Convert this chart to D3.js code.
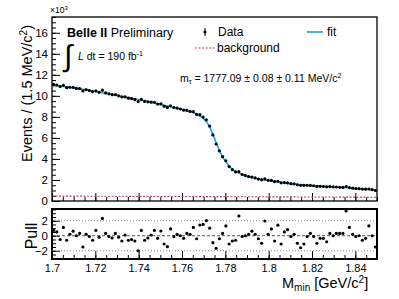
<!DOCTYPE html>
<html><head><meta charset="utf-8">
<script src="https://cdn.jsdelivr.net/npm/d3@7"></script>
<style>body{margin:0;background:#fff} svg{display:block} text{font-family:"Liberation Sans",Arial,Helvetica,sans-serif;fill:#000}</style>
</head><body><svg id="c" width="399" height="299"></svg>
<script>
// ---- data (Events in units of 10^3 per 1.5 MeV bin) ----
const binLow = 1.70, binWidth = 0.0015;
const dataValues = [11.10,11.03,10.88,11.00,10.78,10.82,10.81,10.71,10.69,10.47,
 10.59,10.51,10.41,10.48,10.34,10.54,10.28,10.19,10.11,10.11,
 10.00,9.89,9.91,9.78,9.73,9.65,9.46,9.66,9.47,9.43,
 9.40,9.39,9.22,9.24,9.01,8.90,9.05,8.89,8.84,8.75,
 8.64,8.62,8.52,8.50,8.23,8.21,7.98,7.72,7.13,6.28,
 5.42,4.77,4.22,3.83,3.27,2.98,2.77,2.79,2.52,2.42,
 2.33,2.28,2.19,2.09,2.01,2.10,1.97,1.96,1.84,1.88,
 1.73,1.75,1.72,1.65,1.62,1.54,1.49,1.49,1.50,1.48,
 1.45,1.39,1.40,1.38,1.35,1.37,1.34,1.33,1.31,1.29,
 1.38,1.28,1.22,1.19,1.17,1.13,1.12,1.14,1.08,1.00];
const fitValues = [11.03,10.98,10.93,10.89,10.84,10.80,10.75,10.71,10.66,10.62,
 10.57,10.52,10.47,10.41,10.36,10.31,10.25,10.20,10.14,10.08,
 10.02,9.96,9.90,9.84,9.78,9.72,9.66,9.59,9.53,9.46,
 9.39,9.32,9.25,9.18,9.11,9.04,8.97,8.90,8.82,8.75,
 8.67,8.59,8.50,8.40,8.27,8.08,7.85,7.55,7.05,6.35,
 5.55,4.80,4.20,3.75,3.33,3.02,2.80,2.65,2.52,2.42,
 2.32,2.25,2.18,2.11,2.06,2.01,1.96,1.92,1.87,1.82,
 1.78,1.73,1.69,1.65,1.61,1.58,1.55,1.53,1.50,1.47,
 1.45,1.43,1.41,1.39,1.38,1.36,1.34,1.32,1.30,1.28,
 1.26,1.24,1.21,1.19,1.17,1.15,1.13,1.10,1.08,1.05];
const pullValues = [0.7,0.5,-0.5,1.1,-0.6,0.2,0.6,0.0,0.3,-1.5,
 0.2,-0.1,-0.6,0.7,-0.2,2.3,0.3,-0.1,-0.3,0.3,
 -0.2,-0.7,0.1,-0.6,-0.5,-0.7,-2.0,0.7,-0.6,-0.3,
 0.1,0.7,-0.35,0.63,-1.1,-1.46,0.9,-0.13,0.19,0.0,
 -0.35,0.3,0.19,1.1,-0.4,1.43,1.5,2.0,1.0,-0.93,
 -1.68,-0.4,0.3,1.3,-1.1,-0.7,-0.6,2.63,-0.1,0.0,
 0.2,0.6,0.2,-0.4,-1.0,1.96,0.2,0.9,-0.7,1.4,
 -1.1,0.5,0.8,-0.1,0.2,-1.0,-1.6,-1.1,-0.1,0.3,
 -0.1,-1.0,-0.35,-0.35,-0.8,0.3,0.0,0.3,0.3,0.3,
 3.3,1.1,0.2,-0.1,0.0,-0.6,-0.35,1.3,0.0,-1.5];
const bkgX = [1.70, 1.85];
const bkgValues = [0.47, 0.36];
const yTickValues = [0,2,4,6,8,10,12,14,16];
const xTickLabels = ["1.7","1.72","1.74","1.76","1.78","1.8","1.82","1.84"];
const pullTickValues = [-2,0,2];

// ---- layout ----
const svg = d3.select("#c");
const L = 52, R = 377, T = 17, B = 201, PT = 209, PB = 259;
const x = d3.scaleLinear().domain([1.70, 1.85]).range([L, R]);
const y = d3.scaleLinear().domain([0, 17.5]).range([B, T]);
const yp = d3.scaleLinear().domain([-3.1, 3.56]).range([PB, PT]);
const xTickValues = xTickLabels.map(Number);
const xc = i => x(binLow + (i + 0.5) * binWidth);
const minor = (a, b, s) => d3.range(Math.round((b - a) / s) + 1).map(k => +(a + k * s).toFixed(4));

function styleAxis(g){ g.select(".domain").remove(); g.selectAll("line").attr("stroke","#000").attr("stroke-width",1); }

// main panel axes
svg.append("g").attr("transform",`translate(${L},0)`)
  .call(d3.axisLeft(y).tickValues(minor(0,17.5,0.5)).tickSize(-4).tickFormat("")).call(styleAxis);
svg.append("g").attr("transform",`translate(${L},0)`)
  .call(d3.axisLeft(y).tickValues(yTickValues).tickSize(-8).tickPadding(4).tickFormat(d3.format("d")))
  .call(styleAxis).selectAll("text").attr("font-size",11.5);
svg.append("g").attr("transform",`translate(0,${B})`)
  .call(d3.axisBottom(x).tickValues(minor(1.70,1.85,0.005)).tickSize(-4).tickFormat("")).call(styleAxis);
svg.append("g").attr("transform",`translate(0,${B})`)
  .call(d3.axisBottom(x).tickValues(xTickValues).tickSize(-8).tickFormat("")).call(styleAxis);

// pull panel axes
svg.append("g").attr("transform",`translate(${L},0)`)
  .call(d3.axisLeft(yp).tickValues(minor(-3,3.5,0.5)).tickSize(-4).tickFormat("")).call(styleAxis);
svg.append("g").attr("transform",`translate(${L},0)`)
  .call(d3.axisLeft(yp).tickValues(pullTickValues).tickSize(-8).tickPadding(4).tickFormat(d => d<0 ? "\u2212"+(-d) : d))
  .call(styleAxis).selectAll("text").attr("font-size",11.5);
svg.append("g").attr("transform",`translate(0,${PB})`)
  .call(d3.axisBottom(x).tickValues(minor(1.70,1.85,0.005)).tickSize(-4).tickFormat("")).call(styleAxis);
svg.append("g").attr("transform",`translate(0,${PB})`)
  .call(d3.axisBottom(x).tickValues(xTickValues).tickSize(-8).tickPadding(5).tickFormat((d,i)=>xTickLabels[i]))
  .call(styleAxis).selectAll("text").attr("font-size",11);

// pull reference lines
[[2,"1,2"],[-2,"1,2"],[0,"3,2"]].forEach(([v,da]) => {
  svg.append("line").attr("x1",L).attr("x2",R).attr("y1",yp(v)).attr("y2",yp(v))
    .attr("stroke", v===0 ? "#555" : "#888").attr("stroke-width",1).attr("stroke-dasharray",da);
});

// background
svg.append("path").datum(bkgX.map((d,i)=>[d,bkgValues[i]]))
  .attr("d", d3.line().x(d=>x(d[0])).y(d=>y(d[1])))
  .attr("fill","none").attr("stroke","#c03a76").attr("stroke-width",1.1).attr("stroke-dasharray","2,1.5");

// fit
svg.append("path").datum(fitValues)
  .attr("d", d3.line().x((d,i)=>xc(i)).y(d=>y(d)).curve(d3.curveMonotoneX))
  .attr("fill","none").attr("stroke","#1aa3e0").attr("stroke-width",1.6);

// data points
svg.append("g").selectAll("circle").data(dataValues).join("circle")
  .attr("cx",(d,i)=>xc(i)).attr("cy",d=>y(d)).attr("r",1.6).attr("fill","#000");

// pull points
svg.append("g").selectAll("circle").data(pullValues).join("circle")
  .attr("cx",(d,i)=>xc(i)).attr("cy",d=>yp(d)).attr("r",1.6).attr("fill","#000");

// frames
svg.append("rect").attr("x",L).attr("y",T).attr("width",R-L).attr("height",B-T)
  .attr("fill","none").attr("stroke","#000").attr("stroke-width",1.3);
svg.append("rect").attr("x",L).attr("y",PT).attr("width",R-L).attr("height",PB-PT)
  .attr("fill","none").attr("stroke","#000").attr("stroke-width",2);

// texts
const t = (xx,yy,s,fs) => { const e = svg.append("text").attr("x",xx).attr("y",yy).attr("font-size",fs); if(s!==null) e.text(s); return e; };
const x10 = t(50,13,null,8.5); x10.append("tspan").text("\u00d710"); x10.append("tspan").attr("dy",-3).attr("font-size",6).text("3");

const bl = t(67,37,null,12.5);
bl.append("tspan").attr("font-weight","bold").text("Belle II");
bl.append("tspan").text(" Preliminary");

svg.append("text").attr("x",64).attr("y",66).attr("font-size",30).attr("font-family","DejaVu Serif, serif").text("\u222b");
const lum = t(78,60,null,10.5);
lum.append("tspan").attr("font-style","italic").text("L");
lum.append("tspan").text(" dt = 190 fb");
lum.append("tspan").attr("dy",-4).attr("font-size",7).text("-1");

// legend
svg.append("line").attr("x1",205).attr("x2",205).attr("y1",28).attr("y2",36).attr("stroke","#000").attr("stroke-width",1);
svg.append("circle").attr("cx",205).attr("cy",32).attr("r",1.6).attr("fill","#000");
t(218,36,"Data",12);
svg.append("line").attr("x1",307).attr("x2",323).attr("y1",32).attr("y2",32).attr("stroke","#1aa3e0").attr("stroke-width",1.6);
t(327,36,"fit",12);
svg.append("line").attr("x1",195).attr("x2",215).attr("y1",48).attr("y2",48).attr("stroke","#c03a76").attr("stroke-width",1.1).attr("stroke-dasharray","2,1.5");
t(217,52,"background",12);

const mt = t(180,82,null,10.5);
mt.append("tspan").text("m");
mt.append("tspan").attr("dy",2).attr("font-size",7).text("\u03c4");
mt.append("tspan").attr("dy",-2).text(" = 1777.09 \u00b1 0.08 \u00b1 0.11 MeV/c");
mt.append("tspan").attr("dy",-4).attr("font-size",7).text("2");

// axis titles
const yt = svg.append("text").attr("transform","translate(32,25) rotate(-90)").attr("text-anchor","end").attr("font-size",14.5);
yt.append("tspan").text("Events / (1.5 MeV/c");
yt.append("tspan").attr("dy",-5).attr("font-size",10).text("2");
yt.append("tspan").attr("dy",5).text(")");

svg.append("text").attr("transform","translate(37,236) rotate(-90)").attr("text-anchor","middle").attr("font-size",16).text("Pull");

const xt = t(282,288,null,14.5);
xt.append("tspan").text("M");
xt.append("tspan").attr("dy",3).attr("font-size",10).text("min");
xt.append("tspan").attr("dy",-3).text(" [GeV/c");
xt.append("tspan").attr("dy",-5).attr("font-size",10).text("2");
xt.append("tspan").attr("dy",5).text("]");
</script></body></html>
